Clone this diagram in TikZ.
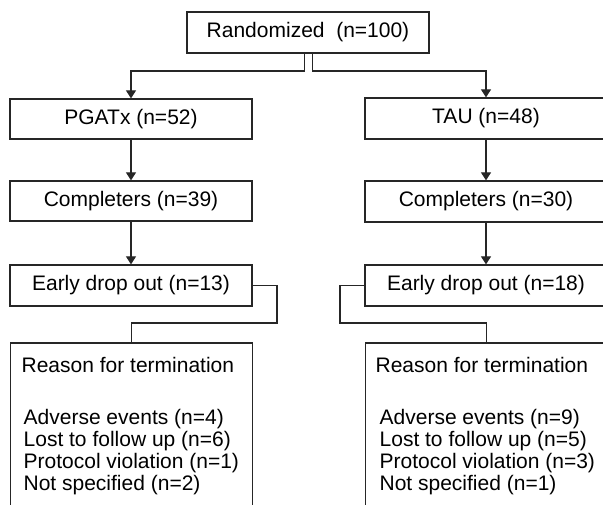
\documentclass[tikz,border=0pt]{standalone}
\usepackage{fontspec}
\setmainfont{Liberation Sans}
\usetikzlibrary{arrows.meta}
\begin{document}
\begin{tikzpicture}[x=1pt,y=-1pt,
  line width=1.3pt,
  lc/.style={draw=black!85},
  box/.style={lc, rectangle, inner sep=0pt, minimum width=242pt, minimum height=41pt, font=\fontsize{21}{24}\selectfont},
  openbox/.style={lc, rectangle, inner sep=0pt, minimum width=242pt, minimum height=220pt, anchor=north west},
  txt/.style={anchor=base west, inner sep=0pt, font=\fontsize{21}{24}\selectfont},
  arr/.style={lc, -{Triangle[width=10pt,length=8pt]}},
  con/.style={lc}
]
\useasboundingbox (0,0) rectangle (603,505);
\clip (0,0) rectangle (603,505);
\fill[white] (0,0) rectangle (603,505);

\node[box] (rand) at (308,32.5) {Randomized~~(n=100)};
\node[box, minimum height=40pt] (pg) at (131,119) {PGATx (n=52)};
\node[box] (tau) at (486,118.5) {TAU (n=48)};
\node[box, minimum height=40pt] (c1) at (131,201) {Completers (n=39)};
\node[box] (c2) at (486,201.5) {Completers (n=30)};
\node[box] (e1) at (131,285.5) {Early drop out (n=13)};
\node[box] (e2) at (486,285.5) {Early drop out (n=18)};
\node[openbox] (r1) at (10,342.5) {};
\node[openbox] (r2) at (365,342.5) {};

\coordinate (sl) at (304.5,53);
\coordinate (sr) at (312.5,53);
\draw[arr] (sl) -- (304.5,71) -| (pg.north);
\draw[arr] (sr) -- (312.5,71) -| (tau.north);
\draw[arr] (pg) -- (c1);
\draw[arr] (tau) -- (c2);
\draw[arr] (c1) -- (e1);
\draw[arr] (c2) -- (e2);
\draw[con] (e1.east) -- (277,285.5) -- (277,323) -| (r1.north);
\draw[con] (e2.west) -- (340,285.5) -- (340,323) -| (r2.north);

\node[txt] (t1a) at (21,372) {Reason for termination};
\node[txt] (t1b) at (23,424) {Adverse events (n=4)};
\node[txt] (t1c) at (23,446) {Lost to follow up (n=6)};
\node[txt] (t1d) at (23,468) {Protocol violation (n=1)};
\node[txt] (t1e) at (23,490) {Not specified (n=2)};

\node[txt] (t2a) at (375,372) {Reason for termination};
\node[txt] (t2b) at (379,424) {Adverse events (n=9)};
\node[txt] (t2c) at (379,446) {Lost to follow up (n=5)};
\node[txt] (t2d) at (379,468) {Protocol violation (n=3)};
\node[txt] (t2e) at (379,490) {Not specified (n=1)};
\end{tikzpicture}
\end{document}
